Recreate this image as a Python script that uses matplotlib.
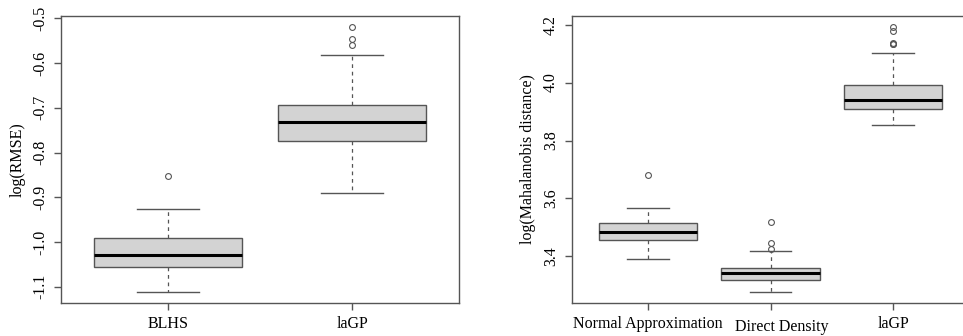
import numpy as np
import matplotlib
matplotlib.use("Agg")
import matplotlib.pyplot as plt
from matplotlib.transforms import ScaledTranslation

plt.rcParams['font.family'] = ['Liberation Serif', 'DejaVu Serif']
plt.rcParams['font.size'] = 11.5

# left panel: log(RMSE)
left_labels = ['BLHS', 'laGP']
left_whislo = [-1.1125, -0.891]
left_q1 = [-1.0556, -0.7733]
left_med = [-1.028, -0.7318]
left_q3 = [-0.992, -0.694]
left_whishi = [-0.926, -0.581]
left_fliers = [[-0.852], [-0.5185, -0.547, -0.560]]
left_ticks = [-1.1, -1.0, -0.9, -0.8, -0.7, -0.6, -0.5]

# right panel: log(Mahalanobis distance)
right_labels = ['Normal Approximation', 'Direct Density', 'laGP']
right_whislo = [3.3917, 3.2759, 3.8526]
right_q1 = [3.4552, 3.3183, 3.908]
right_med = [3.4848, 3.3424, 3.9414]
right_q3 = [3.5138, 3.3586, 3.992]
right_whishi = [3.5655, 3.4193, 4.1035]
right_fliers = [[3.680], [3.5193, 3.4448, 3.4252], [4.193, 4.178, 4.134, 4.136, 4.132]]
right_ticks = [3.4, 3.6, 3.8, 4.0, 4.2]

GRAY = '#555555'


def draw(ax, labels, whislo, q1, med, q3, whishi, fliers, ticks, ylabel):
    stats = []
    for i in range(len(labels)):
        stats.append(dict(label=labels[i], whislo=whislo[i], q1=q1[i], med=med[i],
                          q3=q3[i], whishi=whishi[i], fliers=fliers[i]))
    n = len(labels)
    ax.bxp(stats, positions=range(1, n + 1), widths=0.8, capwidths=0.34,
           patch_artist=True,
           boxprops=dict(facecolor='#d3d3d3', edgecolor=GRAY, linewidth=1.0),
           medianprops=dict(color='black', linewidth=2.2, solid_capstyle='butt'),
           whiskerprops=dict(color=GRAY, linewidth=0.9, linestyle=(0, (3, 3))),
           capprops=dict(color=GRAY, linewidth=1.0),
           flierprops=dict(marker='o', markerfacecolor='none', markeredgecolor=GRAY,
                           markersize=4.2, markeredgewidth=0.8))
    # R style limits: 4% extension
    x0, x1 = 0.5, n + 0.5
    ex = 0.04 * (x1 - x0)
    ax.set_xlim(x0 - ex, x1 + ex)
    allv = whislo + whishi + [v for f in fliers for v in f]
    lo, hi = min(allv), max(allv)
    ey = 0.04 * (hi - lo)
    ax.set_ylim(lo - ey, hi + ey)
    ax.set_yticks(ticks)
    ax.set_yticklabels(['%.1f' % t for t in ticks], rotation=90, va='center')
    ax.set_xticks(range(1, n + 1))
    ax.set_xticklabels(labels)
    ax.set_ylabel(ylabel, labelpad=5)
    for s in ax.spines.values():
        s.set_color(GRAY)
        s.set_linewidth(1.0)
    ax.tick_params(colors=GRAY, labelcolor='black', length=5, width=1.0)
    ax.tick_params(axis='y', pad=4)
    ax.tick_params(axis='x', pad=4)


fig = plt.figure(figsize=(9.63, 3.36), dpi=100)
ax1 = fig.add_axes([0.0633, 0.0982, 0.4133, 0.8542])
ax2 = fig.add_axes([0.5937, 0.0982, 0.4130, 0.8542])

draw(ax1, left_labels, left_whislo, left_q1, left_med, left_q3, left_whishi,
     left_fliers, left_ticks, 'log(RMSE)')
draw(ax2, right_labels, right_whislo, right_q1, right_med, right_q3, right_whishi,
     right_fliers, right_ticks, 'log(Mahalanobis distance)')

# the middle label sits a little right and lower in the original
dd = ax2.get_xticklabels()[1]
dd.set_transform(dd.get_transform() + ScaledTranslation(0.11, -0.03, fig.dpi_scale_trans))

fig.savefig('out.png', dpi=100)
